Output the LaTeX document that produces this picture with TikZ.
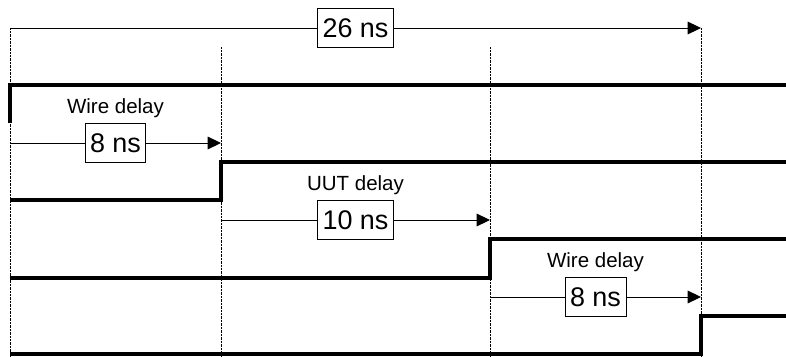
\documentclass[tikz,border=0pt]{standalone}
\usepackage{fontspec}
\setmainfont{Liberation Sans}
\usepackage{tikz}
\usetikzlibrary{arrows.meta,positioning}

\begin{document}
\begin{tikzpicture}[
    sig/.style={line width=3.4pt, line join=miter},
    arrow/.style={-{Triangle[length=0.4cm, width=0.38cm]}, line width=0.8pt},
    delay/.style={draw, fill=white, line width=0.8pt, font=\fontsize{23}{27}\selectfont, inner xsep=0.15cm, minimum height=1.17cm},
    lbl/.style={font=\fontsize{17.5}{21}\selectfont, inner sep=0pt},
    timeline/.style={dash pattern=on 0.6pt off 0.6pt, line width=0.5pt},
]
\useasboundingbox (0,0) rectangle (23.58,-10.71);

% time marks
\coordinate (t0) at (0.30,-0.84);
\coordinate (t8) at (6.63,-1.41);
\coordinate (t18) at (14.70,-1.41);
\coordinate (t26) at (21.03,-0.84);

\draw[timeline] (t0) -- (t0 |- 0,-10.71);
\draw[timeline] (t8) -- (t8 |- 0,-10.71);
\draw[timeline] (t18) -- (t18 |- 0,-10.71);
\draw[timeline] (t26) -- (t26 |- 0,-10.71);

% total delay
\draw[arrow] (t0) -- node[delay] (d26) {26 ns} (t26);

% signals
\draw[sig] (0.30,-3.69) |- (23.58,-2.55);
\draw[sig] (0.30,-6.00) -| (6.63,-4.86) -- (23.58,-4.86);
\draw[sig] (0.30,-8.34) -| (14.70,-7.17) -- (23.58,-7.17);
\draw[sig] (0.30,-10.62) -| (21.03,-9.48) -- (23.58,-9.48);

% stage delays
\coordinate (a0) at (0.30,-4.29);
\coordinate (a8) at (6.63,-4.29);
\coordinate (b8) at (6.63,-6.60);
\coordinate (b18) at (14.70,-6.60);
\coordinate (c18) at (14.70,-8.91);
\coordinate (c26) at (21.03,-8.91);

\draw[arrow] (a0) -- node[delay] (d8a) {8 ns} (a8);
\draw[arrow] (b8) -- node[delay] (d10) {10 ns} (b18);
\draw[arrow] (c18) -- node[delay] (d8b) {8 ns} (c26);

\node[lbl, above=0.15cm of d8a] (wire1) {Wire delay};
\node[lbl, above=0.15cm of d10] (uut) {UUT delay};
\node[lbl, above=0.15cm of d8b] (wire2) {Wire delay};
\end{tikzpicture}
\end{document}
